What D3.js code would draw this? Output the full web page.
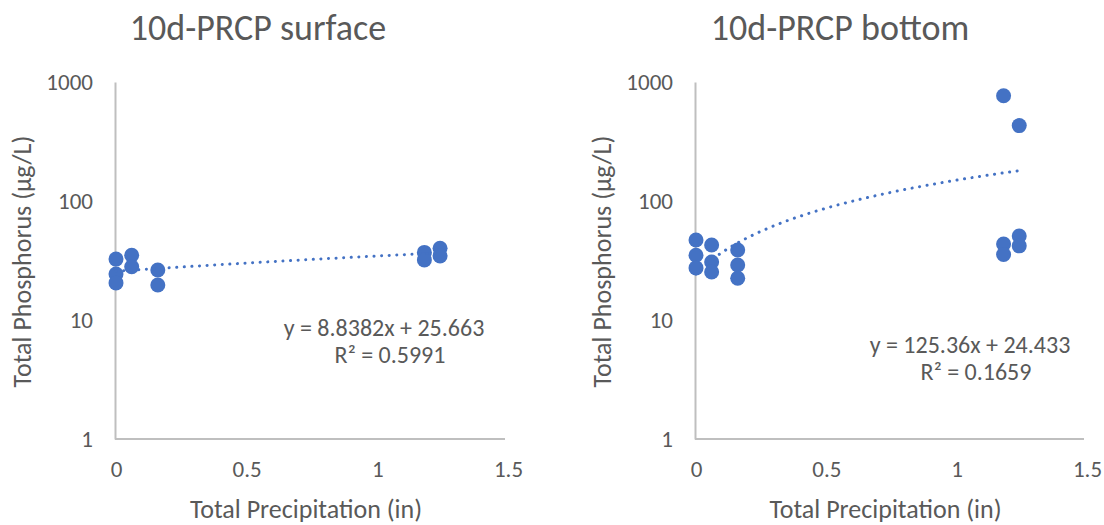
<!DOCTYPE html>
<html>
<head>
<meta charset="utf-8">
<script src="https://cdn.jsdelivr.net/npm/d3@7"></script>
<style>
  body { margin: 0; background: #fff; }
  text { font-family: Carlito, "Liberation Sans", Arial, sans-serif; fill: #595959; }
</style>
</head>
<body>
<svg width="1104" height="525"></svg>
<script>

var svg = d3.select("svg");

// Data
var surfaceX = [0, 0, 0, 0.06, 0.06, 0.16, 0.16, 1.18, 1.18, 1.24, 1.24];
var surfaceY = [32.5, 24.3, 20.5, 35, 28, 26.3, 19.7, 37, 32, 40, 34.5];
var bottomX = [0, 0, 0, 0.06, 0.06, 0.06, 0.16, 0.16, 0.16, 1.18, 1.24, 1.18, 1.18, 1.24, 1.24];
var bottomY = [47, 35, 27.4, 42.7, 30.7, 25.3, 38.8, 29, 22.4, 767, 430, 43.5, 35.5, 50.8, 42];

var xTicks = [0, 0.5, 1, 1.5];
var yTicks = [1, 10, 100, 1000];

var panels = [
    { title: "10d-PRCP surface", xs: surfaceX, ys: surfaceY, slope: 8.8382, icpt: 25.663,
      eq: "y = 8.8382x + 25.663", r2: "R² = 0.5991",
      left: 116, right: 508, eqX: 384, eqY: 336, titleX: 258 },
    { title: "10d-PRCP bottom", xs: bottomX, ys: bottomY, slope: 125.36, icpt: 24.433,
      eq: "y = 125.36x + 24.433", r2: "R² = 0.1659",
      left: 696, right: 1087, eqX: 970, eqY: 353, titleX: 840 }
];

var plotTop = 82, plotBottom = 439;

panels.forEach(function (p) {
    var x = d3.scaleLinear().domain([0, 1.5]).range([p.left, p.right]);
    var y = d3.scaleLog().domain([1, 1000]).range([plotBottom, plotTop]);
    var g = svg.append("g");

    // title
    g.append("text")
        .attr("x", p.titleX).attr("y", 40)
        .attr("text-anchor", "middle")
        .style("font-size", "36px")
        .text(p.title);

    // axes
    var xAxis = g.append("g")
        .attr("transform", "translate(0," + plotBottom + ")")
        .call(d3.axisBottom(x).tickValues(xTicks).tickSize(0).tickPadding(22)
            .tickFormat(d3.format("")));
    var yAxis = g.append("g")
        .attr("transform", "translate(" + (p.left - 1) + ",0)")
        .call(d3.axisLeft(y).tickValues(yTicks).tickSize(0).tickPadding(22)
            .tickFormat(d3.format("d")));
    [xAxis, yAxis].forEach(function (a) {
        a.select(".domain").attr("stroke", "#bfbfbf").attr("stroke-width", 2);
        a.selectAll(".tick text").style("font-size", "23px")
            .style("font-family", "Carlito, 'Liberation Sans', Arial, sans-serif")
            .attr("fill", "#595959");
    });
    xAxis.select(".domain").attr("d", "M" + (p.left - 1) + ",0H" + (p.right - 3));

    // axis titles
    g.append("text")
        .attr("x", (p.left + p.right) / 2 - 6).attr("y", 518)
        .attr("text-anchor", "middle")
        .style("font-size", "26px")
        .text("Total Precipitation (in)");
    g.append("text")
        .attr("transform", "translate(" + (p.left - 85) + "," + ((plotTop + plotBottom) / 2 + 1) + ") rotate(-90)")
        .attr("text-anchor", "middle")
        .style("font-size", "26px")
        .text("Total Phosphorus (µg/L)");

    // points
    g.selectAll("circle")
        .data(p.xs.map(function (d, i) { return [d, p.ys[i]]; }))
        .enter().append("circle")
        .attr("cx", function (d) { return x(d[0]); })
        .attr("cy", function (d) { return y(d[1]); })
        .attr("r", 7.5)
        .attr("fill", "#4472c4");

    // linear trendline on log axis
    var xmax = d3.max(p.xs);
    var pts = d3.range(0, 101).map(function (i) {
        var xv = xmax * i / 100;
        return [xv, p.slope * xv + p.icpt];
    });
    g.append("path")
        .datum(pts)
        .attr("fill", "none")
        .attr("stroke", "#4472c4")
        .attr("stroke-width", 3)
        .attr("stroke-linecap", "round")
        .attr("stroke-dasharray", "0.1,7.5")
        .attr("d", d3.line()
            .x(function (d) { return x(d[0]); })
            .y(function (d) { return y(d[1]); }));

    // equation labels
    g.append("text")
        .attr("x", p.eqX).attr("y", p.eqY)
        .attr("text-anchor", "middle")
        .style("font-size", "24px")
        .text(p.eq);
    g.append("text")
        .attr("x", p.eqX + 6).attr("y", p.eqY + 27)
        .attr("text-anchor", "middle")
        .style("font-size", "24px")
        .text(p.r2);
});
</script>
</body>
</html>
